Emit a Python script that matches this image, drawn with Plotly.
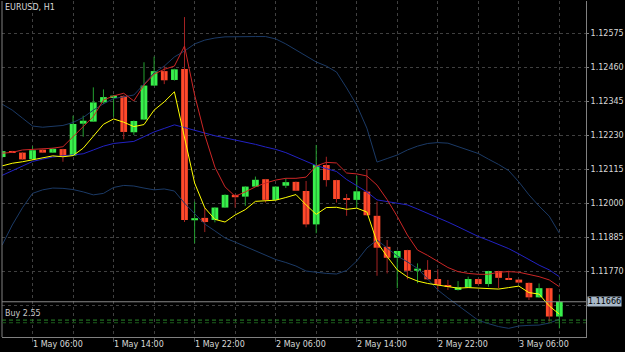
import pandas as pd
import plotly.graph_objects as go

# ---------------- data (EURUSD H1) ----------------
times = pd.date_range("2019-05-01 03:00", periods=56, freq="h")

open_ = [1.12156, 1.12174, 1.12171, 1.12149, 1.12181, 1.12171, 1.12183, 1.12161, 1.12269, 1.12276,
         1.12341, 1.12358, 1.12363, 1.12240, 1.12283, 1.12398, 1.12447, 1.12417, 1.12454, 1.11942,
         1.11950, 1.11943, 1.11985, 1.12028, 1.12022, 1.12056, 1.12081, 1.12011, 1.12059, 1.12072,
         1.12041, 1.11928, 1.12129, 1.12078, 1.12015, 1.12011, 1.12039, 1.11957, 1.11852, 1.11815,
         1.11841, 1.11771, 1.11774, 1.11743, 1.11721, 1.11706, 1.11715, 1.11743, 1.11726, 1.11770,
         1.11746, 1.11741, 1.11730, 1.11681, 1.11712, 1.11616]
high = [1.12178, 1.12177, 1.12172, 1.12193, 1.12182, 1.12187, 1.12184, 1.12296, 1.12296, 1.12392,
        1.12385, 1.12366, 1.12365, 1.12280, 1.12477, 1.12496, 1.12465, 1.12455, 1.12630, 1.12005,
        1.11984, 1.11986, 1.12030, 1.12029, 1.12057, 1.12090, 1.12082, 1.12057, 1.12084, 1.12073,
        1.12075, 1.12197, 1.12157, 1.12079, 1.12031, 1.12092, 1.12115, 1.12005, 1.11875, 1.11839,
        1.11842, 1.11796, 1.11807, 1.11776, 1.11740, 1.11736, 1.11751, 1.11744, 1.11771, 1.11771,
        1.11771, 1.11742, 1.11731, 1.11728, 1.11713, 1.11691]
low = [1.12154, 1.12170, 1.12147, 1.12148, 1.12170, 1.12170, 1.12140, 1.12160, 1.12225, 1.12275,
       1.12336, 1.12293, 1.12216, 1.12231, 1.12282, 1.12397, 1.12403, 1.12415, 1.11936, 1.11864,
       1.11902, 1.11935, 1.11984, 1.11985, 1.11991, 1.12055, 1.12002, 1.12010, 1.12051, 1.12041,
       1.11918, 1.11898, 1.12056, 1.12002, 1.11957, 1.11984, 1.11958, 1.11754, 1.11762, 1.11712,
       1.11742, 1.11729, 1.11740, 1.11706, 1.11706, 1.11704, 1.11714, 1.11724, 1.11717, 1.11712,
       1.11740, 1.11730, 1.11672, 1.11680, 1.11599, 1.11576]
close = [1.12176, 1.12172, 1.12148, 1.12179, 1.12171, 1.12184, 1.12160, 1.12268, 1.12279, 1.12341,
         1.12359, 1.12364, 1.12241, 1.12278, 1.12398, 1.12447, 1.12416, 1.12453, 1.11943, 1.11949,
         1.11936, 1.11985, 1.12028, 1.12020, 1.12056, 1.12079, 1.12011, 1.12056, 1.12071, 1.12042,
         1.11928, 1.12129, 1.12078, 1.12014, 1.12012, 1.12040, 1.11959, 1.11849, 1.11815, 1.11838,
         1.11771, 1.11778, 1.11742, 1.11723, 1.11718, 1.11715, 1.11743, 1.11726, 1.11770, 1.11747,
         1.11741, 1.11731, 1.11681, 1.11712, 1.11616, 1.11666]

ma_yellow = [1.12126, 1.12135, 1.12140, 1.12146, 1.12154, 1.12160, 1.12157, 1.12161, 1.12186, 1.12225,
             1.12267, 1.12285, 1.12274, 1.12259, 1.12266, 1.12315, 1.12343, 1.12377, 1.12224, 1.12068,
             1.11984, 1.11945, 1.11936, 1.11960, 1.11978, 1.12006, 1.12008, 1.12010, 1.12019, 1.12029,
             1.11994, 1.11962, 1.11985, 1.11986, 1.11979, 1.11983, 1.11970, 1.11868, 1.11819, 1.11774,
             1.11750, 1.11736, 1.11728, 1.11723, 1.11719, 1.11712, 1.11714, 1.11712, 1.11712, 1.11709,
             1.11714, 1.11719, 1.11697, 1.11692, 1.11652, 1.11624]
ma_red = [1.12169, 1.12172, 1.12180, 1.12182, 1.12184, 1.12186, 1.12191, 1.12225, 1.12259, 1.12293,
          1.12349, 1.12363, 1.12372, 1.12346, 1.12400, 1.12437, 1.12453, 1.12464, 1.12532, 1.12366,
          1.12231, 1.12122, 1.12055, 1.12023, 1.12038, 1.12055, 1.12068, 1.12078, 1.12084, 1.12084,
          1.12088, 1.12126, 1.12138, 1.12136, 1.12102, 1.12099, 1.12092, 1.12061, 1.12012, 1.11955,
          1.11892, 1.11841, 1.11823, 1.11801, 1.11782, 1.11768, 1.11762, 1.11759, 1.11759, 1.11766,
          1.11768, 1.11766, 1.11759, 1.11751, 1.11740, 1.11717]
bb_upper = [1.12335, 1.12315, 1.12288, 1.12261, 1.12257, 1.12260, 1.12263, 1.12273, 1.12290, 1.12315,
            1.12336, 1.12354, 1.12359, 1.12366, 1.12403, 1.12441, 1.12464, 1.12495, 1.12515, 1.12539,
            1.12552, 1.12559, 1.12563, 1.12564, 1.12564, 1.12564, 1.12564, 1.12556, 1.12539, 1.12519,
            1.12498, 1.12478, 1.12464, 1.12444, 1.12390, 1.12332, 1.12254, 1.12139, 1.12151, 1.12163,
            1.12180, 1.12193, 1.12202, 1.12205, 1.12203, 1.12192, 1.12180, 1.12168, 1.12149, 1.12131,
            1.12110, 1.12072, 1.12028, 1.11990, 1.11956, 1.11898]
bb_mid = [1.12094, 1.12110, 1.12126, 1.12141, 1.12149, 1.12156, 1.12160, 1.12163, 1.12167, 1.12180,
          1.12193, 1.12202, 1.12206, 1.12209, 1.12225, 1.12241, 1.12253, 1.12265, 1.12256, 1.12246,
          1.12236, 1.12228, 1.12221, 1.12214, 1.12207, 1.12199, 1.12190, 1.12182, 1.12171, 1.12156,
          1.12141, 1.12127, 1.12117, 1.12107, 1.12080, 1.12060, 1.12038, 1.12011, 1.12006, 1.11999,
          1.11994, 1.11980, 1.11966, 1.11951, 1.11936, 1.11920, 1.11904, 1.11887, 1.11874, 1.11860,
          1.11846, 1.11828, 1.11809, 1.11790, 1.11774, 1.11751]
bb_lower = [1.11858, 1.11926, 1.11984, 1.12033, 1.12045, 1.12051, 1.12050, 1.12046, 1.12038, 1.12028,
            1.12033, 1.12053, 1.12060, 1.12058, 1.12051, 1.12045, 1.12048, 1.12041, 1.12000, 1.11963,
            1.11929, 1.11906, 1.11882, 1.11868, 1.11853, 1.11838, 1.11823, 1.11809, 1.11799, 1.11787,
            1.11770, 1.11765, 1.11762, 1.11760, 1.11772, 1.11804, 1.11848, 1.11875, 1.11848, 1.11821,
            1.11801, 1.11779, 1.11743, 1.11706, 1.11679, 1.11653, 1.11628, 1.11603, 1.11592, 1.11582,
            1.11576, 1.11584, 1.11586, 1.11587, 1.11594, 1.11607]

price_ticks = [1.11655, 1.11770, 1.11885, 1.12000, 1.12115, 1.12230, 1.12345, 1.12460, 1.12575]
time_labels = ["1 May 06:00", "1 May 14:00", "1 May 22:00", "2 May 06:00",
               "2 May 14:00", "2 May 22:00", "3 May 06:00"]
time_label_pos = ["2019-05-01 06:00", "2019-05-01 14:00", "2019-05-01 22:00", "2019-05-02 06:00",
                  "2019-05-02 14:00", "2019-05-02 22:00", "2019-05-03 06:00"]
bid_price = 1.11666
order_prices = [1.11604, 1.11595]
order_label = "Buy 2.55"
symbol_label = "EURUSD, H1"

# ---------------- styles ----------------
BULL = "#38f04c"
BEAR = "#ff4a2a"
BULL_WICK = "#23a02f"
BEAR_WICK = "#a42222"
GRID = "#404040"
FRAME = "#808080"
TEXT = "#d8d8d8"
FONT = "DejaVu Sans"

fig = go.Figure()

# wicks
for is_bull, col in ((True, BULL_WICK), (False, BEAR_WICK)):
    xs, ys = [], []
    for t, o, h, l, c in zip(times, open_, high, low, close):
        if (c >= o) == is_bull:
            xs += [t, t, None]
            ys += [l, h, None]
    fig.add_trace(go.Scatter(x=xs, y=ys, mode="lines", line=dict(color=col, width=1),
                             hoverinfo="skip"))

# bodies
bar_w = 0.66 * 3600 * 1000
for is_bull, col in ((True, BULL), (False, BEAR)):
    xs, base, hgt = [], [], []
    for t, o, c in zip(times, open_, close):
        if (c >= o) == is_bull:
            xs.append(t)
            base.append(min(o, c))
            hgt.append(max(abs(c - o), 0.000012))
    fig.add_trace(go.Bar(x=xs, y=hgt, base=base, width=bar_w, marker=dict(color=col, line=dict(width=0))))

# indicators
fig.add_trace(go.Scatter(x=times, y=bb_upper, mode="lines", line=dict(color="#1b3a66", width=1)))
fig.add_trace(go.Scatter(x=times, y=bb_lower, mode="lines", line=dict(color="#1b3a66", width=1)))
fig.add_trace(go.Scatter(x=times, y=bb_mid, mode="lines", line=dict(color="#2222c4", width=1)))
fig.add_trace(go.Scatter(x=times, y=ma_red, mode="lines", line=dict(color="#cc2626", width=1)))
fig.add_trace(go.Scatter(x=times, y=ma_yellow, mode="lines", line=dict(color="#ffff00", width=1)))

y_lo, y_hi = 1.115467, 1.126844

# the lowest grid level's label is hidden behind the bid price box in the reference
tick_text = ["" if abs(v - bid_price) < 0.0002 else f"{v:.5f}" for v in price_ticks]

fig.update_layout(
    width=625, height=352,
    margin=dict(l=2, r=36, t=1, b=15),
    paper_bgcolor="black", plot_bgcolor="black",
    showlegend=False, barmode="overlay",
    font=dict(family=FONT, size=8, color=TEXT),
    xaxis=dict(type="date", range=["2019-05-01 02:59:06", "2019-05-03 12:37:48"],
               showgrid=True, gridcolor=GRID, griddash="3px,3px", gridwidth=1,
               tick0="2019-05-01 02:00", dtick=4 * 3600 * 1000,
               ticks="outside", ticklen=4, tickcolor="#505050",
               showticklabels=False, showline=True, linecolor=FRAME, linewidth=1,
               zeroline=False, fixedrange=True),
    yaxis=dict(side="right", range=[y_lo, y_hi], tickvals=price_ticks,
               ticktext=tick_text,
               showgrid=True, gridcolor=GRID, griddash="3px,3px", gridwidth=1,
               ticks="outside", ticklen=2, tickcolor=FRAME,
               tickfont=dict(family=FONT, size=8, color=TEXT),
               showline=True, linecolor=FRAME, linewidth=1, zeroline=False, fixedrange=True),
)

shapes = [
    dict(type="line", xref="paper", yref="paper", x0=0, x1=0, y0=0, y1=1,
         line=dict(color=FRAME, width=1)),
    dict(type="line", xref="paper", yref="y", x0=0, x1=1, y0=bid_price, y1=bid_price,
         line=dict(color="#8a8a8a", width=1)),
    dict(type="line", xref="paper", yref="y", x0=0, x1=1, y0=order_prices[0], y1=order_prices[0],
         line=dict(color="#2a8a2a", width=1, dash="4px,3px")),
    dict(type="line", xref="paper", yref="y", x0=0, x1=1, y0=order_prices[1], y1=order_prices[1],
         line=dict(color="#1c5c1c", width=1, dash="4px,3px")),
]
fig.update_layout(shapes=shapes)

ann = [dict(xref="paper", yref="paper", x=0, y=1, xanchor="left", yanchor="top",
            xshift=1, yshift=0, text=symbol_label, showarrow=False,
            font=dict(family=FONT, size=8, color=TEXT))]
for lab, pos in zip(time_labels, time_label_pos):
    ann.append(dict(xref="x", yref="paper", x=pos, y=0, xanchor="left", yanchor="top",
                    xshift=-2, yshift=-1, text=lab, showarrow=False,
                    font=dict(family=FONT, size=8, color=TEXT)))
ann.append(dict(xref="paper", yref="y", x=1, y=bid_price, xanchor="left", yanchor="middle",
                xshift=1, text=f"{bid_price:.5f}", showarrow=False, bgcolor="#a8b8c8",
                borderpad=0, font=dict(family=FONT, size=8, color="black")))
ann.append(dict(xref="paper", yref="y", x=0, y=order_prices[0], xanchor="left", yanchor="bottom",
                xshift=1, yshift=0, text=order_label, showarrow=False,
                font=dict(family=FONT, size=8, color="#c8c8c8")))
fig.update_layout(annotations=ann)

fig.write_html("out.html")
